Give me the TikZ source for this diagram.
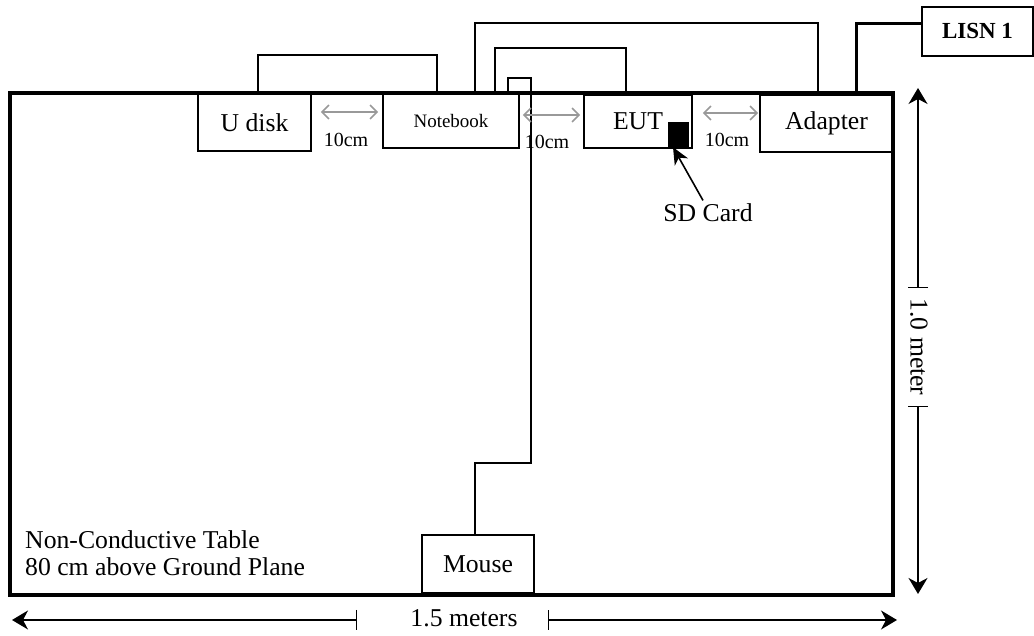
\documentclass[tikz,border=0pt]{standalone}
\usepackage{fontspec}
\setmainfont{Liberation Serif}
\usetikzlibrary{arrows.meta}
\newcommand\mainfnt{\fontsize{25.7}{27.5}\selectfont}
\tikzset{
  dimtip/.tip={Stealth[length=16pt,width=19pt,inset=5pt]},
  dimbar/.tip={Bar[width=20pt]},
  gaptip/.tip={Straight Barb[length=7pt,width=14pt]}
}
\begin{document}
\begin{tikzpicture}[x=1pt,y=1pt,
  box/.style={draw, line width=1.6pt, inner sep=0pt, font=\mainfnt},
  cable/.style={line width=1.8pt},
  gaparrow/.style={draw=black!40, line width=1.6pt, {gaptip}-{gaptip}},
  gaplbl/.style={font=\fontsize{20}{24}\selectfont, inner sep=0pt},
  dim/.style={line width=1.3pt}
]
\useasboundingbox (0,0) rectangle (1034,636);
% table
\node[draw, line width=4.5pt, minimum width=883pt, minimum height=502pt, inner sep=0pt] (table) at (451.5,292) {};
% devices
\node[box, minimum width=113pt, minimum height=57pt] (udisk) at (254.5,513.5) {U disk};
\node[box, minimum width=136pt, minimum height=54pt, font=\fontsize{19}{22}\selectfont] (nb) at (451,515) {Notebook};
\node[box, minimum width=108pt, minimum height=53pt] (eut) at (638,514.5) {EUT};
\node[box, minimum width=133pt, minimum height=57pt] (adapter) at (826.5,512.5) {Adapter};
\node[box, minimum width=112pt, minimum height=58pt] (mouse) at (478,72) {Mouse};
\node[box, minimum width=111pt, minimum height=49pt, font=\fontsize{23}{26}\selectfont\bfseries] (lisn) at (977.5,604.5) {LISN 1};
\node[fill=black, minimum width=21pt, minimum height=25pt, inner sep=0pt] (sd) at (678.5,501.5) {};
% cables
\draw[cable] ([xshift=3.5pt]udisk.north) -- ++(0,38) -| ([xshift=-14pt]nb.north);
\draw[cable] ([xshift=24pt]nb.north) -- ++(0,70) -| ([xshift=-8.5pt]adapter.north);
\draw[cable] ([xshift=44pt]nb.north) -- ++(0,45) -| ([xshift=-12pt]eut.north);
\draw[cable] ([xshift=57pt]nb.north) -- ++(0,15) -- ++(23,0) -- (531,173) -| ([xshift=-3pt]mouse.north);
\draw[line width=3pt] ([xshift=29.5pt]adapter.north) |- ([yshift=7.5pt]lisn.west);
% 10cm gaps
\draw[gaparrow] ([xshift=9pt,yshift=10.5pt]udisk.east) -- ([xshift=-4pt,yshift=9pt]nb.west);
\node[gaplbl] (g1) at (346,496) {10cm};
\draw[gaparrow] ([xshift=3pt,yshift=6pt]nb.east) -- ([xshift=-3pt,yshift=6.5pt]eut.west);
\node[gaplbl] (g2) at (547,494) {10cm};
\draw[gaparrow] ([xshift=10pt,yshift=8.5pt]eut.east) -- ([xshift=-1pt,yshift=10.5pt]adapter.west);
\node[gaplbl] (g3) at (727,496) {10cm};
% SD card label
\node[font=\mainfnt] (sdlbl) at (708,423) {SD Card};
\draw[line width=1.6pt, -{Stealth[length=17pt,width=15pt,inset=5pt]}] ([xshift=-5pt]sdlbl.north) -- ([xshift=-5.5pt]sd.south);
% table label
\node[anchor=north west, align=left, font=\mainfnt, inner sep=0pt] (tlbl) at (25,106) {Non-Conductive Table\\80 cm above Ground Plane};
% vertical dimension
\coordinate (vt) at (918,548);
\coordinate (vm1) at (918,348);
\coordinate (vm2) at (918,230);
\coordinate (vb) at (918,42);
\draw[dim, {dimbar}-{dimtip}] (vm1) -- (vt);
\draw[dim, {dimbar}-{dimtip}] (vm2) -- (vb);
\node[font=\mainfnt, rotate=-90] (vlbl) at (919,289) {1.0 meter};
% horizontal dimension
\coordinate (hl) at (12,16);
\coordinate (hm1) at (357,16);
\coordinate (hm2) at (548,16);
\coordinate (hr) at (897,16);
\draw[dim, {dimbar}-{dimtip}] (hm1) -- (hl);
\draw[dim, {dimbar}-{dimtip}] (hm2) -- (hr);
\node[font=\mainfnt] (hlbl) at (464,18) {1.5 meters};
\end{tikzpicture}
\end{document}
